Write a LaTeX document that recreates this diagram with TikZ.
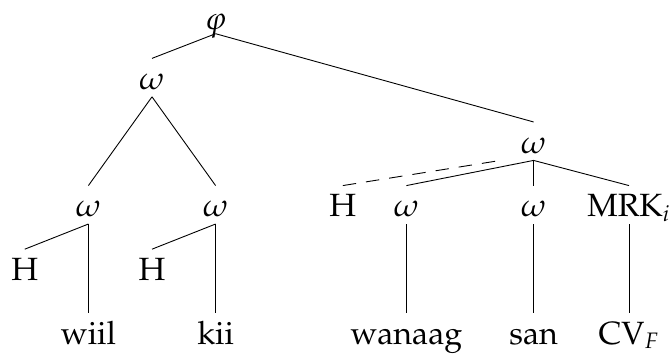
\documentclass[tikz,border=0pt,12pt]{standalone}
\usepackage[T1]{fontenc}
\usepackage{mathpazo}
\usepackage{amsmath}
\usetikzlibrary{positioning}

\begin{document}
\begin{tikzpicture}[font=\large]
  \tikzset{lbl/.style={anchor=base, inner ysep=3pt, text height=10.8pt, text depth=0pt}}
  \useasboundingbox (-2.39,0.41) rectangle (8.16,-5.157);
  \node[lbl, inner ysep=1.8pt] (phi) at (1,-0.05) {$\varphi$};
  \node[lbl] (wl) at (0,-1) {$\omega$};
  \node[lbl] (wr) at (6,-2) {$\omega$};
  \node[lbl] (wll) at (-1,-3) {$\omega$};
  \node[lbl] (wlr) at (1,-3) {$\omega$};
  \node[lbl] (hll) at (-2,-4) {H};
  \node[lbl] (hlr) at (0,-4) {H};
  \node[lbl] (wiil) at (-1,-5) {wiil};
  \node[lbl] (kii) at (1,-5) {kii};
  \node[lbl] (hr) at (3,-3) {H};
  \node[lbl] (wra) at (4,-3) {$\omega$};
  \node[lbl] (wrb) at (6,-3) {$\omega$};
  \node[lbl] (mrk) at (7.5,-3) {MRK$_i$};
  \node[lbl] (wanaag) at (4,-5) {wanaag};
  \node[lbl] (san) at (6,-5) {san};
  \node[lbl] (cv) at (7.5,-5) {CV$_F$};
  \draw (phi.south) -- (wl.north);
  \draw (phi.south) -- (wr.north);
  \draw (wl.south) -- (wll.north);
  \draw (wl.south) -- (wlr.north);
  \draw (wll.south) -- (hll.north);
  \draw (wll.south) -- (wiil.north);
  \draw (wlr.south) -- (hlr.north);
  \draw (wlr.south) -- (kii.north);
  \draw[dash pattern=on 6pt off 4.5pt] (hr.north) -- ([xshift=-0.52cm]wr.south);
  \draw (wr.south) -- (wra.north);
  \draw (wr.south) -- (wrb.north);
  \draw (wr.south) -- (mrk.north);
  \draw (wra.south) -- (wanaag.north);
  \draw (wrb.south) -- (san.north);
  \draw (mrk.south) -- (cv.north);
\end{tikzpicture}
\end{document}
